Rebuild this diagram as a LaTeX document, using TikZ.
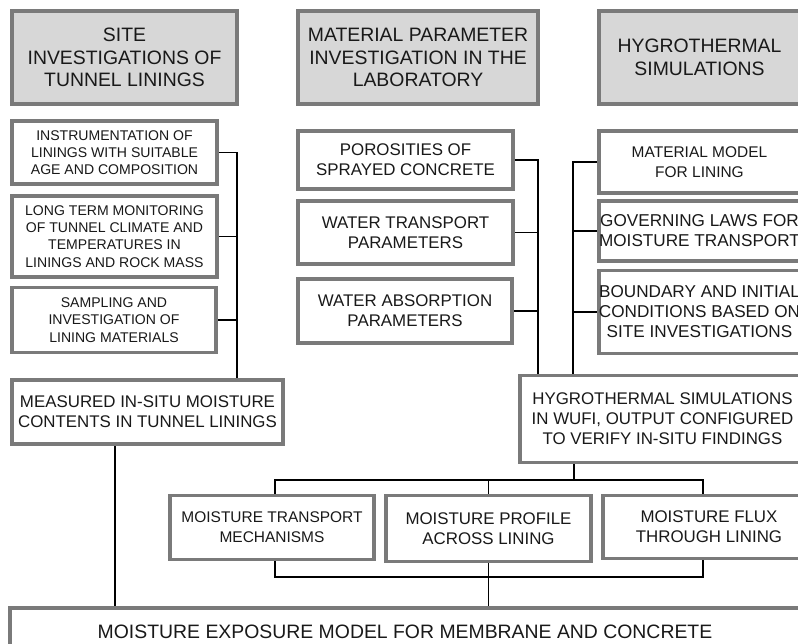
\documentclass[tikz,border=0pt]{standalone}
\usepackage{fontspec}
\setmainfont{Liberation Sans}
\usepackage{tikz}
\usetikzlibrary{positioning,calc,backgrounds}

\definecolor{rimgray}{RGB}{122,122,122}
\definecolor{headgray}{RGB}{215,215,215}
\definecolor{inkblack}{RGB}{25,25,25}

\begin{document}
\begin{tikzpicture}[x=0.025cm,y=-0.025cm,
  box/.style={draw=rimgray,line width=2.5pt,fill=white,inner sep=0pt,align=center,text=inkblack},
  size/.style 2 args={minimum width=#1*0.025cm,minimum height=#2*0.025cm},
  head/.style={box,fill=headgray,font=\fontsize{13.8}{16}\selectfont},
  sitebox/.style={box,font=\fontsize{10}{12.3}\selectfont},
  midbox/.style={box,font=\fontsize{12}{14.2}\selectfont},
  link/.style={line width=0.8pt,black}]
\useasboundingbox (0,0) rectangle (798,644);
\clip (0,0) rectangle (798,644);

% headings
\node[head,size={225}{93}] (site) at (124.5,57.5) {SITE\\INVESTIGATIONS OF\\TUNNEL LININGS};
\node[head,size={240}{93}] (lab) at (418,57.5) {MATERIAL PARAMETER\\INVESTIGATION IN THE\\LABORATORY};
\node[head,size={201}{93}] (hygro) at (699.5,57.5) {HYGROTHERMAL\\SIMULATIONS};

% site column
\node[sitebox,size={205}{63}] (instr) at (114.5,152.5) {INSTRUMENTATION OF\\LININGS WITH SUITABLE\\AGE AND COMPOSITION};
\node[sitebox,size={205}{81}] (monitor) at (114.5,236.5) {LONG TERM MONITORING\\OF TUNNEL CLIMATE AND\\TEMPERATURES IN\\LININGS AND ROCK MASS};
\node[sitebox,size={204}{65}] (sampling) at (114,320) {SAMPLING AND\\INVESTIGATION OF\\LINING MATERIALS};
\node[midbox,size={271}{64}] (measured) at (147.5,412) {MEASURED IN-SITU MOISTURE\\CONTENTS IN TUNNEL LININGS};

% laboratory column
\node[midbox,size={215}{58}] (poros) at (405.5,160) {POROSITIES OF\\SPRAYED CONCRETE};
\node[midbox,size={215}{63}] (transport) at (405.5,232.5) {WATER TRANSPORT\\PARAMETERS};
\node[midbox,size={214}{64}] (absorb) at (405,311) {WATER ABSORPTION\\PARAMETERS};

% simulation column
\node[box,font=\fontsize{11}{14}\selectfont,size={201}{62}] (matmodel) at (699.5,162) {MATERIAL MODEL\\FOR LINING};
\node[box,font=\fontsize{12.2}{14.2}\selectfont,size={201}{60}] (laws) at (699.5,231) {GOVERNING LAWS FOR\\MOISTURE TRANSPORT};
\node[box,font=\fontsize{12.2}{14.2}\selectfont,size={201}{83}] (bounds) at (699.5,312) {BOUNDARY AND INITIAL\\CONDITIONS BASED ON\\SITE INVESTIGATIONS};
\node[midbox,size={285}{87}] (wufi) at (662.5,419) {HYGROTHERMAL SIMULATIONS\\IN WUFI, OUTPUT CONFIGURED\\TO VERIFY IN-SITU FINDINGS};

% outputs
\node[box,font=\fontsize{11}{14.2}\selectfont,size={204}{64}] (mech) at (272,527.5) {MOISTURE TRANSPORT\\MECHANISMS};
\node[midbox,size={205}{66}] (profile) at (488.5,528.5) {MOISTURE PROFILE\\ACROSS LINING};
\node[midbox,size={212}{63}] (flux) at (709,527) {MOISTURE FLUX\\THROUGH LINING};
\node[box,font=\fontsize{13.8}{16}\selectfont,size={790}{48}] (exposure) at (405,632) {MOISTURE EXPOSURE MODEL FOR MEMBRANE AND CONCRETE};

\coordinate (rail1) at (237,0);
\coordinate (rail2) at (538,0);
\coordinate (rail3) at (573,0);
\coordinate (fork) at (574,480);
\coordinate (join) at (488,577);
\coordinate (leftdrop) at (275,0);
\coordinate (rightdrop) at (703,0);
\coordinate (siteleg) at (115,0);

\begin{scope}[on background layer]
\draw[link] (instr.east) -| (measured.north -| rail1);
\draw[link] (monitor.east) -- (monitor.east -| rail1);
\draw[link] (sampling.east) -- (sampling.east -| rail1);
\draw[link] (poros.east) -| (wufi.north -| rail2);
\draw[link] (transport.east) -- (transport.east -| rail2);
\draw[link] (absorb.east) -- (absorb.east -| rail2);
\draw[link] (matmodel.west) -| (wufi.north -| rail3);
\draw[link] (laws.west) -- (laws.west -| rail3);
\draw[link] (bounds.west) -- (bounds.west -| rail3);
\draw[link] (wufi.south -| fork) -- (fork);
\draw[link] (mech.north -| leftdrop) |- (fork) -| (flux.north -| rightdrop);
\draw[link] (profile.north) -- (profile.north |- fork);
\draw[link] (mech.south -| leftdrop) |- (join) -| (flux.south -| rightdrop);
\draw[link] (profile.south) -- (exposure.north -| profile.south);
\draw[link] (measured.south -| siteleg) -- (exposure.north -| siteleg);
\end{scope}
\end{tikzpicture}
\end{document}
